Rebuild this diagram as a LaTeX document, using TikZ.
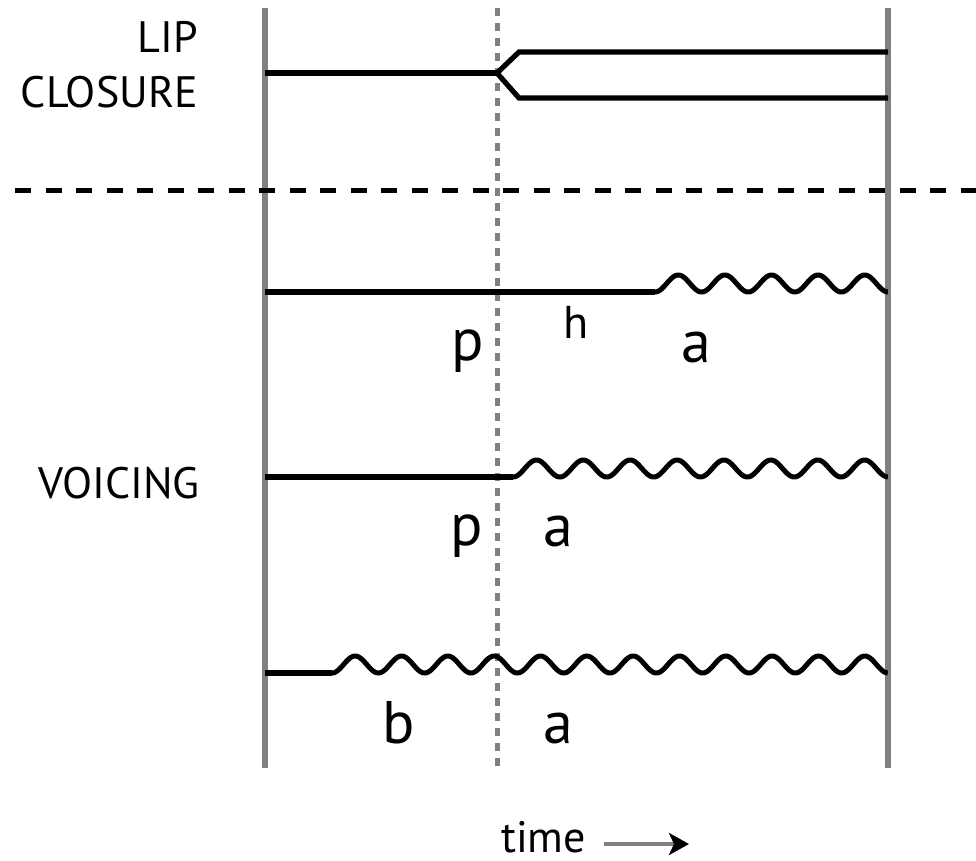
\documentclass[tikz,border=0pt]{standalone}
\usepackage{fontspec}
\setsansfont{PT Sans}
\usetikzlibrary{arrows.meta, positioning}

\begin{document}
\begin{tikzpicture}[
    x=1pt, y=-1pt,
    font=\sffamily,
    guide/.style={draw=gray, line width=5.5pt},
    midguide/.style={draw=gray, line width=5pt, dash pattern=on 8pt off 7pt},
    divider/.style={draw=black, line width=5pt, dash pattern=on 16pt off 14.5pt},
    trace/.style={draw=black, line width=5.2pt},
    rowlabel/.style={inner sep=0pt, anchor=base east, font=\sffamily\fontsize{44}{50}\selectfont},
    phone/.style={inner sep=0pt, anchor=base west, font=\sffamily\fontsize{60}{70}\selectfont},
    arrow/.style={draw=gray, line width=4pt, -{Stealth[length=20pt, width=22pt, inset=5pt, color=black]}}
]
\useasboundingbox (0,0) rectangle (976,860);

% time grid
\draw[guide] (265,8) -- (265,768);
\draw[guide] (888,8) -- (888,768);
\draw[midguide] (497,8) -- (497,768);
\draw[divider] (15,190) -- (976,190);

% lip closure
\draw[trace] (265,73) -- (497,73);
\draw[trace] (497,73) -- (519,52) -- (888,52);
\draw[trace] (497,73) -- (519,98) -- (888,98);

% voicing traces
\foreach \base/\start/\n in {292/655/5, 477/513/8, 673/332/12} {
    \pgfmathsetmacro{\per}{(888-\start)/\n}
    \draw[trace] (265,\base) -- (\start,\base);
    \draw[trace, line width=5pt, line join=round]
        plot[domain=0:\n, samples=40*\n, smooth] ({\start+\per*\x}, {\base-8.5*(1-cos(360*\x))});
}

\node[rowlabel] (lip) at (198,52) {LIP};
\node[rowlabel] (closure) at (198,107) {CLOSURE};
\node[rowlabel] (voicing) at (200,498) {VOICING};

\node[phone] (p1) at (451,360) {p};
\node[phone, font=\sffamily\fontsize{46}{52}\selectfont] (h1) at (563,338) {h};
\node[phone] (a1) at (681,362) {a};
\node[phone] (p2) at (450,545) {p};
\node[phone] (a2) at (543,546) {a};
\node[phone] (b3) at (382,743) {b};
\node[phone] (a3) at (543,743) {a};

\node[rowlabel, anchor=base west] (time) at (501,852) {time};
\coordinate (arrow start) at (604,844);
\coordinate (arrow end) at (689,844);
\draw[arrow] (arrow start) -- (arrow end);

\end{tikzpicture}
\end{document}
